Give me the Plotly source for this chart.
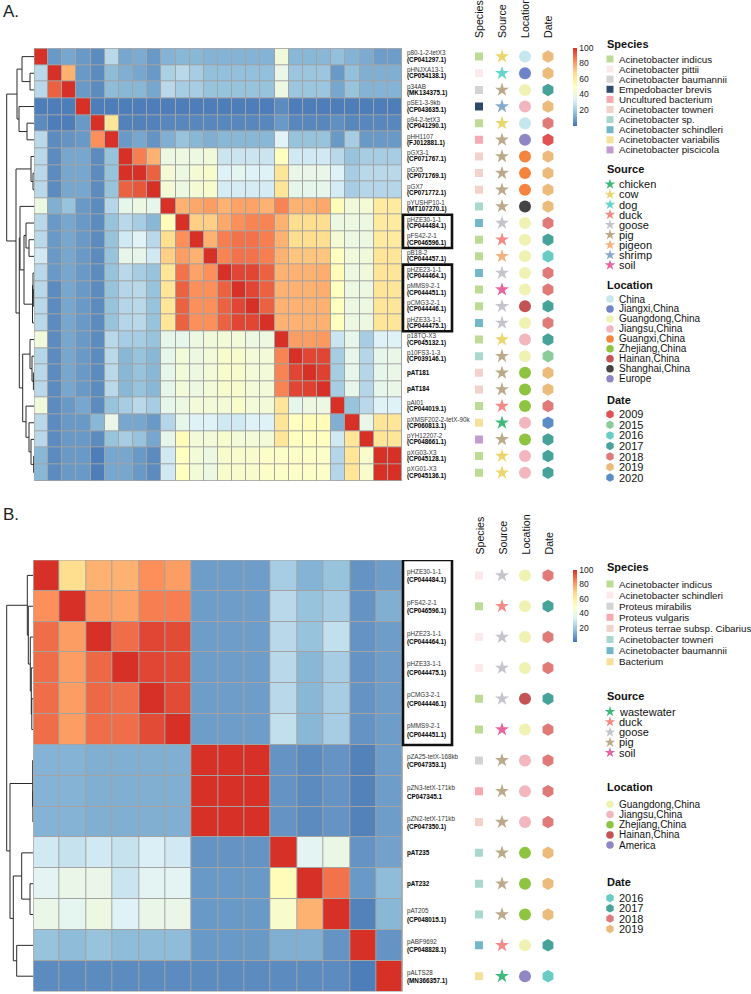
import plotly.graph_objects as go

W, H = 751, 994

# ---------------- DATA ----------------
top_names = ["p80-1-2-tetX3", "pHNJXA13-1", "p34AB", "pSE1-3-9kb", "p94-2-tetX3", "pHH1107",
             "pGX3-1", "pGX5", "pGX7", "pYUSHP10-1", "pHZE30-1-1", "pFS42-2-1", "pB18-2",
             "pHZE23-1-1", "pMMS9-2-1", "pCMG3-2-1", "pHZE33-1-1", "p18TQ-X3", "p10FS3-1-3",
             "pAT181", "pAT184", "pAI01", "pXMSF202-2-tetX-90k", "pYH12207-2", "pXG03-X3", "pXG01-X3"]
top_acc = ["(CP041297.1)", "(CP054138.1)", "(MK134375.1)", "(CP043635.1)", "(CP041290.1)", "(FJ012881.1)",
           "(CP071767.1)", "(CP071769.1)", "(CP071772.1)", "(MT107270.1)", "(CP044484.1)", "(CP046596.1)",
           "(CP044457.1)", "(CP044464.1)", "(CP044451.1)", "(CP044446.1)", "(CP044475.1)", "(CP045132.1)",
           "(CP039146.1)", "", "", "(CP044019.1)", "(CP060813.1)", "(CP048661.1)", "(CP045128.1)", "(CP045136.1)"]

top_z = [
    [100, 8, 11, 8, 5, 25, 11, 12, 8, 14, 15, 15, 14, 14, 14, 14, 14, 42, 15, 15, 15, 17, 14, 12, 9, 9],
    [25, 100, 76, 8, 5, 16, 13, 11, 8, 22, 25, 21, 17, 17, 17, 17, 17, 38, 19, 19, 19, 8, 17, 13, 13, 13],
    [25, 91, 100, 8, 5, 16, 15, 15, 11, 25, 21, 21, 18, 18, 18, 18, 18, 40, 19, 19, 19, 11, 18, 14, 14, 14],
    [2, 2, 2, 100, 2, 2, 2, 2, 2, 2, 2, 2, 2, 2, 2, 2, 2, 5, 2, 2, 2, 2, 2, 2, 2, 2],
    [5, 2, 2, 8, 100, 64, 3, 3, 3, 4, 4, 4, 4, 4, 4, 4, 4, 8, 4, 4, 4, 6, 4, 4, 4, 4],
    [25, 5, 7, 8, 83, 100, 8, 11, 7, 13, 18, 15, 13, 15, 15, 15, 15, 34, 18, 18, 18, 8, 21, 8, 8, 8],
    [25, 5, 11, 11, 5, 18, 100, 86, 76, 40, 40, 40, 42, 29, 29, 29, 29, 50, 30, 30, 30, 25, 18, 21, 21, 21],
    [25, 5, 11, 11, 5, 18, 100, 100, 91, 44, 40, 44, 46, 33, 36, 33, 33, 64, 38, 38, 38, 33, 21, 25, 25, 25],
    [25, 5, 11, 11, 5, 18, 91, 93, 100, 44, 40, 44, 46, 31, 31, 31, 31, 64, 37, 37, 37, 31, 21, 24, 24, 24],
    [40, 13, 18, 8, 5, 24, 37, 40, 37, 100, 76, 78, 80, 76, 79, 79, 76, 85, 76, 76, 78, 52, 42, 44, 61, 61],
    [25, 8, 11, 8, 5, 18, 25, 21, 15, 52, 100, 70, 70, 78, 83, 85, 85, 76, 67, 67, 67, 40, 40, 40, 61, 61],
    [25, 8, 11, 8, 5, 18, 30, 34, 25, 67, 83, 100, 76, 86, 88, 88, 86, 76, 67, 67, 67, 44, 40, 40, 61, 61],
    [30, 8, 11, 8, 5, 18, 37, 37, 30, 70, 80, 76, 100, 85, 88, 88, 86, 76, 72, 72, 72, 50, 42, 42, 64, 64],
    [25, 8, 11, 8, 5, 18, 25, 21, 18, 64, 88, 79, 83, 100, 96, 96, 91, 76, 76, 76, 77, 52, 40, 42, 64, 64],
    [25, 5, 11, 8, 5, 18, 24, 25, 18, 64, 91, 83, 83, 91, 100, 96, 91, 76, 76, 76, 77, 50, 40, 40, 64, 64],
    [25, 5, 11, 8, 5, 18, 24, 25, 18, 64, 91, 83, 83, 91, 96, 100, 91, 76, 76, 76, 76, 50, 40, 40, 64, 64],
    [25, 5, 11, 8, 5, 18, 24, 25, 18, 64, 91, 83, 83, 91, 96, 96, 100, 76, 76, 76, 76, 50, 40, 40, 64, 64],
    [42, 5, 11, 8, 5, 25, 21, 21, 18, 37, 37, 40, 42, 43, 43, 40, 40, 100, 80, 80, 81, 29, 37, 21, 33, 33],
    [24, 5, 11, 8, 5, 25, 15, 18, 15, 37, 43, 40, 43, 46, 46, 43, 43, 85, 100, 96, 96, 21, 37, 24, 37, 38],
    [25, 5, 11, 8, 5, 25, 15, 18, 15, 37, 43, 40, 43, 46, 46, 43, 43, 85, 96, 100, 97, 21, 37, 24, 37, 38],
    [25, 5, 11, 8, 5, 25, 15, 18, 15, 37, 43, 40, 43, 46, 46, 43, 43, 85, 96, 97, 100, 21, 37, 24, 37, 38],
    [42, 5, 8, 11, 5, 18, 21, 25, 21, 37, 40, 43, 43, 43, 47, 43, 43, 64, 37, 40, 40, 100, 18, 25, 33, 33],
    [25, 5, 8, 8, 15, 38, 11, 11, 8, 24, 37, 33, 33, 30, 30, 33, 33, 64, 50, 52, 52, 13, 100, 38, 64, 64],
    [25, 5, 8, 8, 5, 18, 21, 18, 11, 37, 52, 43, 43, 46, 43, 43, 43, 64, 50, 50, 50, 30, 64, 100, 64, 64],
    [15, 5, 8, 8, 2, 11, 11, 8, 5, 30, 50, 43, 40, 46, 46, 46, 48, 48, 48, 48, 48, 24, 64, 46, 100, 100],
    [15, 5, 8, 8, 2, 11, 11, 8, 5, 30, 50, 43, 40, 46, 46, 46, 48, 48, 48, 48, 48, 24, 64, 46, 100, 100],
]

top_species = ["Acinetobacter indicus", "Acinetobacter pittii", "Acinetobacter baumannii", "Empedobacter brevis",
               "Acinetobacter indicus", "Uncultured bacterium", "Acinetobacter towneri", "Acinetobacter towneri",
               "Acinetobacter towneri", "Acinetobacter sp.", "Acinetobacter schindleri", "Acinetobacter indicus",
               "Acinetobacter indicus", "Acinetobacter schindleri", "Acinetobacter indicus", "Acinetobacter indicus",
               "Acinetobacter schindleri", "Acinetobacter indicus", "Acinetobacter sp.", "Acinetobacter towneri",
               "Acinetobacter towneri", "Acinetobacter indicus", "Acinetobacter variabilis", "Acinetobacter piscicola",
               "Acinetobacter indicus", "Acinetobacter indicus"]
top_source = ["cow", "dog", "pig", "shrimp", "cow", "pig", "pig", "pig", "pig", "pig", "goose", "duck", "pigeon",
              "goose", "soil", "goose", "goose", "cow", "pig", "pig", "pig", "duck", "chicken", "pig", "cow", "cow"]
top_location = ["China", "Jiangxi,China", "Guangdong,China", "Jiangsu,China", "China", "Europe", "Guangxi,China",
                "Guangxi,China", "Guangxi,China", "Shanghai,China", "Guangdong,China", "Guangdong,China",
                "Guangdong,China", "Guangdong,China", "Guangdong,China", "Hainan,China", "Guangdong,China",
                "Jiangsu,China", "Guangdong,China", "Zhejiang,China", "Zhejiang,China", "Zhejiang,China",
                "Jiangsu,China", "Zhejiang,China", "Jiangsu,China", "Jiangsu,China"]
top_date = ["2019", "2019", "2017", "2019", "2018", "2009", "2019", "2019", "2019", "2019", "2018", "2017", "2016",
            "2018", "2018", "2017", "2018", "2017", "2015", "2019", "2019", "2018", "2020", "2017", "2017", "2017"]

top_species_levels = ["Acinetobacter indicus", "Acinetobacter pittii", "Acinetobacter baumannii",
                      "Empedobacter brevis", "Uncultured bacterium", "Acinetobacter towneri", "Acinetobacter sp.",
                      "Acinetobacter schindleri", "Acinetobacter variabilis", "Acinetobacter piscicola"]
top_source_levels = ["chicken", "cow", "dog", "duck", "goose", "pig", "pigeon", "shrimp", "soil"]
top_location_levels = ["China", "Jiangxi,China", "Guangdong,China", "Jiangsu,China", "Guangxi,China",
                       "Zhejiang,China", "Hainan,China", "Shanghai,China", "Europe"]
top_date_levels = ["2009", "2015", "2016", "2017", "2018", "2019", "2020"]

# dendrogram (merge height, left, right); leaves are row indices
top_tree = [27.3,
            [17, [12, 0, [4, 1, 2]], [15, 3, [7, 4, 5]]],
            [18, [3, 6, [1, 7, 8]],
             [14.7,
              [14, 9, [10, [8, 10, [5, 11, 12]], [1.5, [1.0, 13, [0.7, 14, 15]], 16]]],
              [11.3, [4, 17, [2, 18, [0.6, 19, 20]]], [8, 21, [5, 22, [3, 23, [0.3, 24, 25]]]]]]]]
top_boxes = [(10, 11), (13, 16)]

bot_names = ["pHZE30-1-1", "pFS42-2-1", "pHZE23-1-1", "pHZE33-1-1", "pCMG3-2-1", "pMMS9-2-1",
             "pZA25-tetX-168kb", "pZN3-tetX-171kb", "pZN2-tetX-171kb", "pAT235", "pAT232", "pAT205",
             "pABF9692", "pALTS28"]
bot_acc = ["(CP044484.1)", "(CP046596.1)", "(CP044464.1)", "(CP044475.1)", "(CP044446.1)", "(CP044451.1)",
           "(CP047353.1)", "CP047345.1", "(CP047350.1)", "", "", "(CP048015.1)", "(CP048828.1)", "(MN366357.1)"]

bot_z = [
    [100, 67, 76, 76, 83, 80, 9, 9, 9, 21, 14, 18, 7, 9],
    [83, 100, 80, 79, 86, 86, 9, 9, 9, 25, 18, 21, 7, 13],
    [89, 80, 100, 89, 96, 95, 9, 9, 9, 25, 18, 27, 7, 9],
    [89, 80, 90, 100, 96, 95, 9, 9, 9, 25, 15, 21, 7, 9],
    [89, 80, 90, 89, 100, 95, 9, 9, 9, 25, 15, 21, 7, 9],
    [89, 80, 89, 89, 95, 100, 9, 9, 9, 27, 15, 21, 7, 9],
    [14, 14, 13, 13, 13, 13, 100, 100, 100, 7, 5, 7, 3, 9],
    [14, 14, 13, 13, 13, 13, 100, 100, 100, 7, 5, 7, 3, 9],
    [14, 14, 13, 13, 13, 13, 100, 100, 100, 7, 5, 7, 3, 9],
    [30, 28, 30, 28, 32, 30, 7, 7, 7, 100, 35, 39, 7, 10],
    [35, 38, 38, 29, 35, 35, 8, 8, 8, 52, 100, 88, 8, 16],
    [38, 36, 40, 33, 38, 38, 8, 8, 8, 46, 76, 100, 3, 15],
    [18, 16, 18, 16, 16, 16, 8, 8, 8, 13, 13, 7, 100, 7],
    [5, 5, 5, 5, 5, 5, 5, 5, 5, 5, 5, 5, 2, 100],
]

bot_species = ["Acinetobacter schindleri", "Acinetobacter indicus", "Acinetobacter schindleri",
               "Acinetobacter schindleri", "Acinetobacter indicus", "Acinetobacter indicus", "Proteus mirabilis",
               "Proteus vulgaris", "Proteus terrae subsp. Cibarius", "Acinetobacter towneri",
               "Acinetobacter towneri", "Acinetobacter towneri", "Acinetobacter baumannii", "Bacterium"]
bot_source = ["goose", "duck", "goose", "goose", "goose", "soil", "pig", "pig", "pig", "pig", "pig", "pig",
              "duck", "wastewater"]
bot_location = ["Guangdong,China", "Guangdong,China", "Guangdong,China", "Guangdong,China", "Hainan,China",
                "Guangdong,China", "Jiangsu,China", "Jiangsu,China", "Jiangsu,China", "Zhejiang,China",
                "Zhejiang,China", "Zhejiang,China", "Guangdong,China", "America"]
bot_date = ["2018", "2017", "2018", "2018", "2017", "2018", "2018", "2018", "2018", "2019", "2019", "2019",
            "2017", "2016"]

bot_species_levels = ["Acinetobacter indicus", "Acinetobacter schindleri", "Proteus mirabilis", "Proteus vulgaris",
                      "Proteus terrae subsp. Cibarius", "Acinetobacter towneri", "Acinetobacter baumannii",
                      "Bacterium"]
bot_source_levels = ["wastewater", "duck", "goose", "pig", "soil"]
bot_location_levels = ["Guangdong,China", "Jiangsu,China", "Zhejiang,China", "Hainan,China", "America"]
bot_date_levels = ["2016", "2017", "2018", "2019"]

bot_tree = [26.6,
            [6, 0, [5, 1, [3, 2, [2, 3, [1.5, 4, 5]]]]],
            [23.3, [0.6, 6, [0.4, 7, 8]],
             [20, [11.6, 9, [3.3, 10, 11]], [16.6, 12, 13]]]]
bot_boxes = [(0, 5)]

track_names = ["Species", "Source", "Location", "Date"]

# ---------------- STYLE ----------------
top_species_pal = {"Acinetobacter indicus": "#bcdc94", "Acinetobacter pittii": "#fde9ea",
                   "Acinetobacter baumannii": "#d3d3d3", "Empedobacter brevis": "#2e4a6b",
                   "Uncultured bacterium": "#f7a8b0", "Acinetobacter towneri": "#f3d2ca",
                   "Acinetobacter sp.": "#a9d8cf", "Acinetobacter schindleri": "#72b8c8",
                   "Acinetobacter variabilis": "#f6e09a", "Acinetobacter piscicola": "#c59ccf"}
bot_species_pal = {"Acinetobacter indicus": "#bcdc94", "Acinetobacter schindleri": "#fde9ea",
                   "Proteus mirabilis": "#d3d3d3", "Proteus vulgaris": "#f7a8b0",
                   "Proteus terrae subsp. Cibarius": "#f3d2ca", "Acinetobacter towneri": "#a9d8cf",
                   "Acinetobacter baumannii": "#72b8c8", "Bacterium": "#f6e09a"}
source_pal = {"chicken": "#3dba7a", "wastewater": "#3dba7a", "cow": "#ecd56a", "dog": "#64d4cc",
              "duck": "#f48a86", "goose": "#c4c4cc", "pig": "#bba98a", "pigeon": "#f6b27c",
              "shrimp": "#84aacc", "soil": "#e8649e"}
location_pal = {"China": "#c6e6ef", "Jiangxi,China": "#6f84c8", "Guangdong,China": "#f0f2b4",
                "Jiangsu,China": "#f2b6be", "Guangxi,China": "#f4843e", "Zhejiang,China": "#8ec440",
                "Hainan,China": "#c45454", "Shanghai,China": "#444444", "Europe": "#9186c4",
                "America": "#9186c4"}
date_pal = {"2009": "#e05252", "2015": "#8ccc9a", "2016": "#66ccc4", "2017": "#45a39a", "2018": "#e07a78",
            "2019": "#ecbb7c", "2020": "#5a8cc8"}

colorscale = [[0, "#4575B4"], [1 / 6, "#91BFDB"], [2 / 6, "#E0F3F8"], [3 / 6, "#FFFFBF"],
              [4 / 6, "#FEE090"], [5 / 6, "#FC8D59"], [1, "#D73027"]]
FONT = "Arial, Liberation Sans, sans-serif"
GRID = "#a3a3a3"


def px(xp):
    return xp / W


def py(yp):
    return 1 - yp / H


fig = go.Figure()
layout = {}
annotations = []
shapes = []
axis_off = dict(showgrid=False, zeroline=False, showticklabels=False, ticks="", showline=False, fixedrange=True)


def tree_lines(node):
    if isinstance(node, int):
        return float(node), 0.0, [], []
    h, a, b = node
    ya, ha, xa, yla = tree_lines(a)
    yb, hb, xb, ylb = tree_lines(b)
    xs = xa + xb + [ha, h, h, hb, None]
    ys = yla + ylb + [ya, ya, yb, yb, None]
    return (ya + yb) / 2, h, xs, ys


def add_panel(k, geo, z, names, accs, species, source, location, date, species_pal, tree, boxes, cb):
    n = len(z)
    ax_h, ax_d, ax_t = 3 * k + 1, 3 * k + 2, 3 * k + 3
    ydom = [py(geo["bottom"]), py(geo["top"])]
    yr = [n - 0.5, -0.5]
    # heatmap
    layout["xaxis%d" % ax_h] = dict(domain=[px(geo["left"]), px(geo["right"])], range=[-0.5, n - 0.5],
                                   anchor="y%d" % ax_h, **axis_off)
    layout["yaxis%d" % ax_h] = dict(domain=ydom, range=yr, anchor="x%d" % ax_h, **axis_off)
    fig.add_trace(go.Heatmap(z=z, x=list(range(n)), y=list(range(n)), colorscale=colorscale, zmin=0, zmax=100,
                             xgap=1, ygap=1, xaxis="x%d" % ax_h, yaxis="y%d" % ax_h, hoverinfo="skip",
                             colorbar=dict(x=px(573), xanchor="left", y=py(cb[0]), yanchor="top",
                                           len=cb[1] - cb[0], lenmode="pixels", thickness=4,
                                           thicknessmode="pixels", xpad=0, ypad=0, outlinewidth=0,
                                           tickvals=[20, 40, 60, 80, 100], ticks="", ticklen=1,
                                           tickfont=dict(size=8.5, family=FONT, color="#222"))))
    shapes.append(dict(type="rect", xref="x%d" % ax_h, yref="y%d" % ax_h, x0=-0.5, x1=n - 0.5, y0=-0.5,
                       y1=n - 0.5, fillcolor=GRID, line=dict(width=0), layer="below"))
    shapes.append(dict(type="rect", xref="x%d" % ax_h, yref="y%d" % ax_h, x0=-0.5, x1=n - 0.5, y0=-0.5,
                       y1=n - 0.5, line=dict(color=GRID, width=1.2), layer="above"))
    # dendrogram
    _, hroot, xs, ys = tree_lines(tree)
    layout["xaxis%d" % ax_d] = dict(domain=[0, px(geo["left"])], range=[geo["left"], 0],
                                   anchor="y%d" % ax_d, **axis_off)
    layout["yaxis%d" % ax_d] = dict(domain=ydom, range=yr, anchor="x%d" % ax_d, **axis_off)
    fig.add_trace(go.Scatter(x=xs, y=ys, mode="lines", line=dict(color="#2a2a2a", width=1),
                             xaxis="x%d" % ax_d, yaxis="y%d" % ax_d, hoverinfo="skip", showlegend=False))
    # annotation tracks
    c0, step = 479, 23
    layout["xaxis%d" % ax_t] = dict(domain=[px(c0 - 0.6 * step), px(c0 + 3.6 * step)], range=[-0.6, 3.6],
                                   anchor="y%d" % ax_t, **axis_off)
    layout["yaxis%d" % ax_t] = dict(domain=ydom, range=yr, anchor="x%d" % ax_t, **axis_off)
    rows = list(range(n))
    specs = [(species, species_pal, "square", 8), (source, source_pal, "star", 10.5),
             (location, location_pal, "circle", 12), (date, date_pal, "hexagon", 12.5)]
    for ci, (vals, pal, sym, size) in enumerate(specs):
        fig.add_trace(go.Scatter(x=[ci] * n, y=rows, mode="markers",
                                 marker=dict(symbol=sym, size=size, color=[pal[v] for v in vals],
                                             line=dict(width=0)),
                                 xaxis="x%d" % ax_t, yaxis="y%d" % ax_t, hoverinfo="skip", showlegend=False))
        annotations.append(dict(text=track_names[ci], x=ci, xref="x%d" % ax_t, y=py(geo["hdr"]), yref="paper",
                                textangle=-90, xanchor="center", yanchor="bottom", showarrow=False,
                                font=dict(size=10.6, family=FONT, color="#111")))
    # row labels
    for i in rows:
        if accs[i]:
            annotations.append(dict(text=names[i], x=px(405), xref="paper", y=i, yref="y%d" % ax_h,
                                    yshift=geo["shift"][0], xanchor="left", yanchor="middle", showarrow=False,
                                    font=dict(size=6.3, family=FONT, color="#333")))
            annotations.append(dict(text="<b>%s</b>" % accs[i], x=px(405), xref="paper", y=i,
                                    yref="y%d" % ax_h, yshift=geo["shift"][1], xanchor="left",
                                    yanchor="middle", showarrow=False,
                                    font=dict(size=6.3, family=FONT, color="#000")))
        else:
            annotations.append(dict(text="<b>%s</b>" % names[i], x=px(405), xref="paper", y=i,
                                    yref="y%d" % ax_h, xanchor="left", yanchor="middle", showarrow=False,
                                    font=dict(size=6.3, family=FONT, color="#000")))
    for a, b in boxes:
        shapes.append(dict(type="rect", xref="paper", yref="y%d" % ax_h, x0=px(403), x1=px(452), y0=a - 0.5,
                           y1=b + 0.5, line=dict(color="#111", width=2.6), layer="above"))


add_panel(0, dict(left=34, right=402, top=48.3, bottom=481, hdr=40, shift=(3.2, -3.0)), top_z, top_names,
          top_acc, top_species, top_source, top_location, top_date, top_species_pal, top_tree, top_boxes,
          (47.7, 125.6))
add_panel(1, dict(left=33.3, right=402.7, top=560, bottom=991.6, hdr=556.5, shift=(3.5, -5.0)), bot_z,
          bot_names, bot_acc, bot_species, bot_source, bot_location, bot_date, bot_species_pal, bot_tree,
          bot_boxes, (570, 642))

# ---------------- LEGENDS (pixel canvas) ----------------
LX = 7
layout["xaxis%d" % LX] = dict(domain=[0, 1], range=[0, W], anchor="y%d" % LX, **axis_off)
layout["yaxis%d" % LX] = dict(domain=[0, 1], range=[H, 0], anchor="x%d" % LX, **axis_off)

legend_groups = [
    ("Species", top_species_levels, top_species_pal, "square", 7, 44, 59, 10.1, 9.8),
    ("Source", top_source_levels, source_pal, "star", 8, 169, 184.3, 10.1, 11),
    ("Location", top_location_levels, location_pal, "circle", 7.5, 285, 299, 9.97, 10),
    ("Date", top_date_levels, date_pal, "hexagon", 8.5, 400, 414.3, 10.55, 11),
    ("Species", bot_species_levels, bot_species_pal, "square", 7, 567.3, 584, 11.1, 9.8),
    ("Source", bot_source_levels, source_pal, "star", 8, 695.7, 711.7, 10.25, 11),
    ("Location", bot_location_levels, location_pal, "circle", 7.5, 787.3, 804.3, 10.2, 10),
    ("Date", bot_date_levels, date_pal, "hexagon", 8.5, 882, 898, 10.3, 11),
]
for title, levels, pal, sym, msize, ty, y0, dy, fs in legend_groups:
    ys = [y0 + j * dy for j in range(len(levels))]
    fig.add_trace(go.Scatter(x=[610] * len(levels), y=ys, mode="markers",
                             marker=dict(symbol=sym, size=msize, color=[pal[v] for v in levels], line=dict(width=0)),
                             xaxis="x%d" % LX, yaxis="y%d" % LX, hoverinfo="skip", showlegend=False))
    annotations.append(dict(text="<b>%s</b>" % title, x=605, y=ty, xref="x%d" % LX, yref="y%d" % LX,
                            xanchor="left", yanchor="middle", showarrow=False,
                            font=dict(size=11, family=FONT, color="#111")))
    for v, yy in zip(levels, ys):
        annotations.append(dict(text=v, x=617, y=yy, xref="x%d" % LX, yref="y%d" % LX, xanchor="left",
                                yanchor="middle", showarrow=False, font=dict(size=fs, family=FONT, color="#111")))

annotations.append(dict(text="A.", x=px(1), y=py(12), xref="paper", yref="paper", xanchor="left",
                        yanchor="middle", showarrow=False, font=dict(size=17, family=FONT, color="#222")))
annotations.append(dict(text="B.", x=px(1), y=py(514), xref="paper", yref="paper", xanchor="left",
                        yanchor="middle", showarrow=False, font=dict(size=17, family=FONT, color="#222")))

fig.update_layout(width=W, height=H, margin=dict(l=0, r=0, t=0, b=0), paper_bgcolor="white",
                  plot_bgcolor="rgba(0,0,0,0)", showlegend=False, annotations=annotations, shapes=shapes,
                  **layout)
fig.write_html("out.html", config={"displayModeBar": False},
               post_script="document.body.style.margin='0px';document.body.style.overflow='hidden';")
